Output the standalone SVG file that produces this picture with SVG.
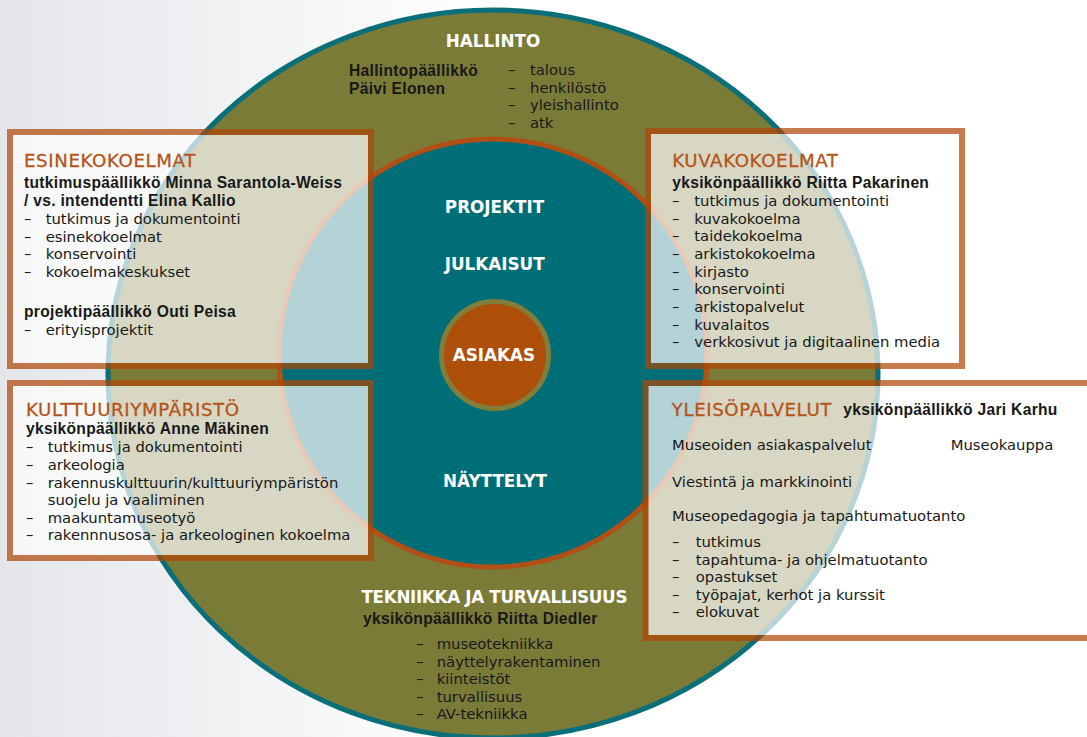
<svg xmlns="http://www.w3.org/2000/svg" width="1087" height="737" viewBox="0 0 1087 737">
<defs>
<linearGradient id="bg" x1="0" y1="0" x2="1" y2="0">
<stop offset="0" stop-color="#e4e6ea"/>
<stop offset="0.45" stop-color="#ffffff"/>
<stop offset="1" stop-color="#ffffff"/>
</linearGradient>
<style>
.t{font-family:"DejaVu Sans","Liberation Sans",sans-serif;font-size:14.8px;fill:#181818}
.b{font-family:"Liberation Sans",Arial,sans-serif;font-weight:bold;font-size:15.6px;letter-spacing:0.3px}
.h{font-family:"DejaVu Sans",sans-serif;font-size:18.2px;fill:#b5541a;stroke:#b5541a;stroke-width:0.3px;letter-spacing:0.6px}
.w{font-family:"DejaVu Sans",sans-serif;font-size:16.8px;fill:#ffffff;font-weight:bold}
.c{text-anchor:middle}
.box{fill:#ffffff;stroke:#b04605;stroke-width:6;opacity:0.7}
</style>
</defs>
<rect x="0" y="0" width="1087" height="737" fill="url(#bg)"/>
<g id="hallinto">
<ellipse cx="493" cy="374" rx="385" ry="364" fill="#7b7b38" stroke="#0a6f78" stroke-width="5"/>
<text class="t w c" x="493" y="47">HALLINTO</text>
<text class="t b"><tspan x="349" y="76">Hallintopäällikkö</tspan><tspan x="349" y="93.5">Päivi Elonen</tspan></text>
<text class="t"><tspan x="508" y="75">–</tspan><tspan x="530" y="75">talous</tspan><tspan x="508" y="92.5">–</tspan><tspan x="530" y="92.5">henkilöstö</tspan><tspan x="508" y="110">–</tspan><tspan x="530" y="110">yleishallinto</tspan><tspan x="508" y="127.5">–</tspan><tspan x="530" y="127.5">atk</tspan></text>
</g>
<g id="tekniikka">
<text class="t w c" x="494.5" y="603" textLength="266" lengthAdjust="spacing">TEKNIIKKA JA TURVALLISUUS</text>
<text class="t b" x="363" y="624">yksikönpäällikkö Riitta Diedler</text>
<text class="t"><tspan x="416" y="649.3">–</tspan><tspan x="436.7" y="649.3">museotekniikka</tspan><tspan x="416" y="666.8">–</tspan><tspan x="436.7" y="666.8">näyttelyrakentaminen</tspan><tspan x="416" y="684.3">–</tspan><tspan x="436.7" y="684.3">kiinteistöt</tspan><tspan x="416" y="701.8">–</tspan><tspan x="436.7" y="701.8">turvallisuus</tspan><tspan x="416" y="719.3">–</tspan><tspan x="436.7" y="719.3">AV-tekniikka</tspan></text>
</g>
<g id="sisa">
<circle cx="493" cy="353" r="214" fill="#006e76" stroke="#b24f14" stroke-width="5"/>
<text class="t w c" x="494.5" y="213">PROJEKTIT</text>
<text class="t w c" x="494.7" y="269.5">JULKAISUT</text>
<text class="t w c" x="495" y="487">NÄYTTELYT</text>
</g>
<g id="asiakas">
<circle cx="495" cy="355" r="53.5" fill="#ad4f09" stroke="#817d3a" stroke-width="5"/>
<text class="t w c" x="494" y="361">ASIAKAS</text>
</g>
<g id="connectors"></g>
<g id="esinekokoelmat">
<rect class="box" x="10" y="132" width="361" height="234"/>
<text class="t h" x="24" y="167">ESINEKOKOELMAT</text>
<text class="t b"><tspan x="24" y="188.3">tutkimuspäällikkö Minna Sarantola-Weiss</tspan><tspan x="24" y="206">/ vs. intendentti Elina Kallio</tspan></text>
<text class="t"><tspan x="24" y="224">–</tspan><tspan x="45.7" y="224">tutkimus ja dokumentointi</tspan><tspan x="24" y="241.5">–</tspan><tspan x="45.7" y="241.5">esinekokoelmat</tspan><tspan x="24" y="259">–</tspan><tspan x="45.7" y="259">konservointi</tspan><tspan x="24" y="276.7">–</tspan><tspan x="45.7" y="276.7">kokoelmakeskukset</tspan></text>
<text class="t b" x="24" y="317.3">projektipäällikkö Outi Peisa</text>
<text class="t"><tspan x="24" y="334.6">–</tspan><tspan x="45.7" y="334.6">erityisprojektit</tspan></text>
</g>
<g id="kulttuuriymparisto">
<rect class="box" x="10" y="383" width="361" height="175"/>
<text class="t h" x="26" y="415.5">KULTTUURIYMPÄRISTÖ</text>
<text class="t b" x="26" y="434.3">yksikönpäällikkö Anne Mäkinen</text>
<text class="t"><tspan x="26" y="452.3">–</tspan><tspan x="47.7" y="452.3">tutkimus ja dokumentointi</tspan><tspan x="26" y="469.9">–</tspan><tspan x="47.7" y="469.9">arkeologia</tspan><tspan x="26" y="487.5">–</tspan><tspan x="47.7" y="487.5">rakennuskulttuurin/kulttuuriympäristön</tspan><tspan x="47.7" y="505.1">suojelu ja vaaliminen</tspan><tspan x="26" y="522.7">–</tspan><tspan x="47.7" y="522.7">maakuntamuseotyö</tspan><tspan x="26" y="540.3">–</tspan><tspan x="47.7" y="540.3">rakennnusosa- ja arkeologinen kokoelma</tspan></text>
</g>
<g id="kuvakokoelmat">
<rect class="box" x="648" y="131" width="314" height="235"/>
<text class="t h" x="672.3" y="167.3">KUVAKOKOELMAT</text>
<text class="t b" x="672.3" y="188.3">yksikönpäällikkö Riitta Pakarinen</text>
<text class="t"><tspan x="672" y="206">–</tspan><tspan x="694.3" y="206">tutkimus ja dokumentointi</tspan><tspan x="672" y="223.66">–</tspan><tspan x="694.3" y="223.66">kuvakokoelma</tspan><tspan x="672" y="241.33">–</tspan><tspan x="694.3" y="241.33">taidekokoelma</tspan><tspan x="672" y="259">–</tspan><tspan x="694.3" y="259">arkistokokoelma</tspan><tspan x="672" y="276.66">–</tspan><tspan x="694.3" y="276.66">kirjasto</tspan><tspan x="672" y="294.33">–</tspan><tspan x="694.3" y="294.33">konservointi</tspan><tspan x="672" y="312">–</tspan><tspan x="694.3" y="312">arkistopalvelut</tspan><tspan x="672" y="329.66">–</tspan><tspan x="694.3" y="329.66">kuvalaitos</tspan><tspan x="672" y="347.33">–</tspan><tspan x="694.3" y="347.33">verkkosivut ja digitaalinen media</tspan></text>
</g>
<g id="yleisopalvelut">
<rect class="box" x="645.5" y="383" width="460" height="255"/>
<text class="t h" x="671.7" y="415.7">YLEISÖPALVELUT</text>
<text class="t b" x="843.3" y="415">yksikönpäällikkö Jari Karhu</text>
<text class="t"><tspan x="672" y="450">Museoiden asiakaspalvelut</tspan><tspan x="950.7" y="450">Museokauppa</tspan><tspan x="672" y="487.3">Viestintä ja markkinointi</tspan><tspan x="672" y="520.7">Museopedagogia ja tapahtumatuotanto</tspan><tspan x="672" y="547.3">–</tspan><tspan x="695.7" y="547.3">tutkimus</tspan><tspan x="672" y="564.8">–</tspan><tspan x="695.7" y="564.8">tapahtuma- ja ohjelmatuotanto</tspan><tspan x="672" y="582.3">–</tspan><tspan x="695.7" y="582.3">opastukset</tspan><tspan x="672" y="599.8">–</tspan><tspan x="695.7" y="599.8">työpajat, kerhot ja kurssit</tspan><tspan x="672" y="617.3">–</tspan><tspan x="695.7" y="617.3">elokuvat</tspan></text>
</g>
</svg>
